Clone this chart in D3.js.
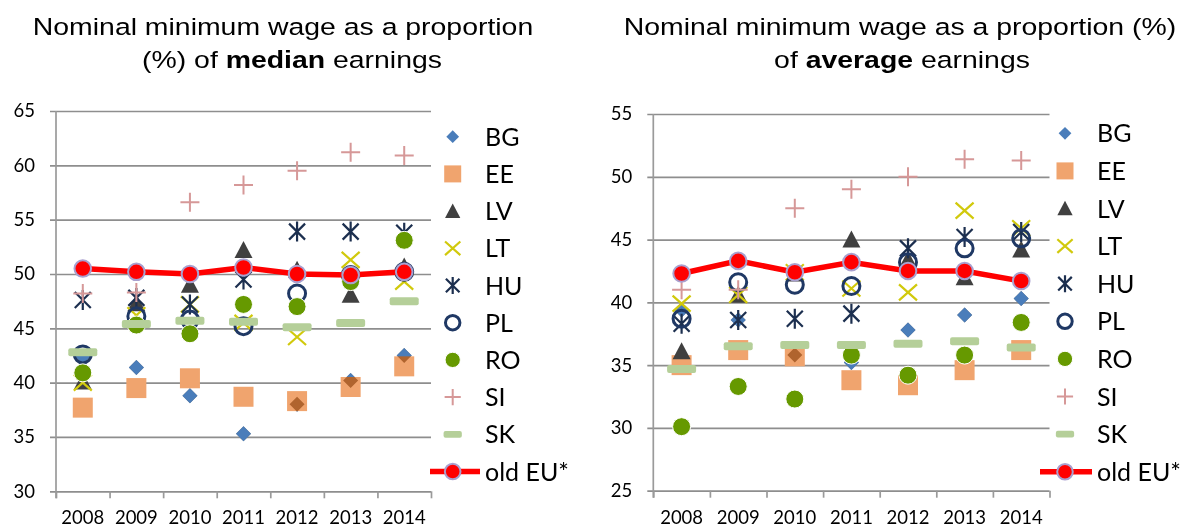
<!DOCTYPE html>
<html>
<head>
<meta charset="utf-8">
<script src="https://cdnjs.cloudflare.com/ajax/libs/d3/7.8.5/d3.min.js"></script>
<style>
  body { margin: 0; background: #fff; }
  svg { display: block; }
  .title { font-family: "Liberation Sans", Arial, sans-serif; font-size: 24.5px; fill: #000; }
  .axis text { font-family: Lato, sans-serif; font-size: 18.5px; fill: #000; }
  .legend-text { font-family: Lato, sans-serif; font-size: 25px; fill: #000; }
</style>
</head>
<body>
<svg id="chart"></svg>
<script>
const years = ["2008", "2009", "2010", "2011", "2012", "2013", "2014"];
const countries = ["BG", "EE", "LV", "LT", "HU", "PL", "RO", "SI", "SK"];
const oldLabel = "old EU*";

// minimum wage as % of median earnings
const medBG = [42.4, 41.4, 38.8, 35.3, 38.0, 40.2, 42.5];
const medEE = [37.7, 39.5, 40.4, 38.7, 38.3, 39.6, 41.5];
const medLV = [40.1, 47.3, 49.0, 52.2, 50.4, 48.1, 50.7];
const medLT = [40.0, 46.2, 47.2, 45.5, 44.2, 51.3, 49.3];
const medHU = [47.6, 47.8, 47.2, 49.5, 53.9, 53.9, 53.8];
const medPL = [42.6, 46.1, 45.8, 45.2, 48.2, 49.9, 50.2];
const medRO = [40.9, 45.3, 44.5, 47.2, 47.0, 49.3, 53.1];
const medSI = [48.2, 48.3, 56.6, 58.2, 59.5, 61.2, 60.9];
const medSK = [42.8, 45.4, 45.7, 45.6, 45.1, 45.5, 47.5];
const medOld = [50.5, 50.2, 50.0, 50.6, 50.0, 49.9, 50.2];

// minimum wage as % of average earnings
const avgBG = [39.4, 38.6, 35.8, 35.2, 37.8, 39.0, 40.3];
const avgEE = [35.0, 36.2, 35.7, 33.8, 33.4, 34.6, 36.2];
const avgLV = [36.1, 40.6, 42.3, 45.0, 43.4, 42.0, 44.2];
const avgLT = [39.9, 40.6, 42.4, 41.1, 40.8, 47.3, 45.9];
const avgHU = [38.3, 38.6, 38.7, 39.1, 44.3, 45.2, 45.6];
const avgPL = [38.7, 41.6, 41.4, 41.3, 43.2, 44.3, 45.1];
const avgRO = [30.1, 33.3, 32.3, 35.8, 34.2, 35.8, 38.4];
const avgSI = [41.0, 41.0, 47.5, 49.0, 50.0, 51.4, 51.3];
const avgSK = [34.7, 36.5, 36.6, 36.6, 36.7, 36.9, 36.4];
const avgOld = [42.3, 43.3, 42.4, 43.2, 42.5, 42.5, 41.7];

const medTicks = [30, 35, 40, 45, 50, 55, 60, 65];
const avgTicks = [25, 30, 35, 40, 45, 50, 55];

const shapes = {BG: "diamond", EE: "square", LV: "triangle", LT: "x", HU: "star",
                PL: "circle", RO: "dot", SI: "plus", SK: "dash"};
const colors = {BG: "#4a7dba", EE: "#f0a46e", LV: "#404040", LT: "#d1c90c", HU: "#1c2f4f",
                PL: "#1f3864", RO: "#669900", SI: "#d69898", SK: "#b5cf99"};

const svg = d3.select("#chart").attr("width", 1189).attr("height", 526);

drawChart({
  x0: 56, x1: 431, yTop: 111, yBot: 491.3, domain: [30, 65], ticks: medTicks,
  series: [medBG, medEE, medLV, medLT, medHU, medPL, medRO, medSI, medSK], old: medOld,
  legX: 452.7, legTextX: 485, legY0: 136.7, legDy: 37.2, legLine: [430, 480],
  title: [{x: 283, parts: [["Nominal minimum wage as a proportion", "normal"]]},
          {x: 292, parts: [["(%) of ", "normal"], ["median", "bold"], [" earnings", "normal"]]}]
});

drawChart({
  x0: 653.3, x1: 1049.5, yTop: 114, yBot: 490.7, domain: [25, 55], ticks: avgTicks,
  series: [avgBG, avgEE, avgLV, avgLT, avgHU, avgPL, avgRO, avgSI, avgSK], old: avgOld,
  legX: 1065, legTextX: 1097, legY0: 133.3, legDy: 37.6, legLine: [1040, 1092],
  title: [{x: 900, parts: [["Nominal minimum wage as a proportion (%)", "normal"]]},
          {x: 902, parts: [["of ", "normal"], ["average", "bold"], [" earnings", "normal"]]}]
});

function drawChart(cfg) {
  const g = svg.append("g");

  // titles (the original font is set wider than Arial)
  cfg.title.forEach((line, i) => {
    const t = g.append("g")
      .attr("transform", `translate(${line.x},${35 + i * 33}) scale(1.16,1)`)
      .append("text").attr("class", "title").attr("text-anchor", "middle");
    line.parts.forEach(p => t.append("tspan").attr("font-weight", p[1]).text(p[0]));
  });

  const x = d3.scaleBand().domain(years).range([cfg.x0, cfg.x1]);
  const y = d3.scaleLinear().domain(cfg.domain).range([cfg.yBot, cfg.yTop]);
  const cx = d => x(d) + x.bandwidth() / 2;

  // gridlines + y labels
  const yAxis = g.append("g").attr("class", "axis")
    .attr("transform", `translate(${cfg.x0 - 6},0)`)
    .call(d3.axisLeft(y).tickValues(cfg.ticks).tickSize(-(cfg.x1 - cfg.x0 + 6)).tickPadding(15));
  yAxis.select(".domain").remove();
  yAxis.selectAll(".tick line").attr("stroke", "#8e8e8e").attr("stroke-width", 1.7);

  // x axis tick marks at category boundaries
  const xb = d3.scaleLinear().domain([0, years.length]).range([cfg.x0, cfg.x1]);
  const xTicks = g.append("g").attr("class", "axis")
    .attr("transform", `translate(0,${cfg.yBot})`)
    .call(d3.axisBottom(xb).ticks(years.length).tickFormat("").tickSize(7));
  xTicks.select(".domain").remove();
  xTicks.selectAll(".tick line").attr("stroke", "#9a9a9a").attr("stroke-width", 1.7);

  const xLabels = g.append("g").attr("class", "axis")
    .attr("transform", `translate(0,${cfg.yBot})`)
    .call(d3.axisBottom(x).tickSize(0).tickPadding(20));
  xLabels.select(".domain").remove();

  // vertical axis line
  g.append("line")
    .attr("x1", cfg.x0).attr("x2", cfg.x0)
    .attr("y1", cfg.yTop).attr("y2", cfg.yBot + 7)
    .attr("stroke", "#9a9a9a").attr("stroke-width", 1.7);

  // country markers
  countries.forEach((c, i) => {
    g.selectAll(null)
      .data(cfg.series[i])
      .enter()
      .append("g")
        .attr("transform", (d, j) => `translate(${cx(years[j])},${y(d)})`)
        .each(function() { marker(d3.select(this), c, 1); });

    // BG shows through the EE squares as a darker shade
    if (c === "EE") {
      g.selectAll(null)
        .data(cfg.series[0])
        .enter()
        .append("g")
          .style("mix-blend-mode", "luminosity")
          .attr("transform", (d, j) => `translate(${cx(years[j])},${y(d)})`)
          .each(function() { marker(d3.select(this), "BG", 1); });
    }
  });

  // old EU line
  const line = d3.line().x((d, j) => cx(years[j])).y(d => y(d));
  g.append("path")
    .datum(cfg.old)
    .attr("d", line)
    .attr("fill", "none")
    .attr("stroke", "#ff0000")
    .attr("stroke-width", 5.5);

  g.selectAll(null)
    .data(cfg.old)
    .enter()
    .append("circle")
      .attr("cx", (d, j) => cx(years[j]))
      .attr("cy", d => y(d))
      .attr("r", 8.3)
      .attr("fill", "#ff0000")
      .attr("stroke", "#a9a0cf")
      .attr("stroke-width", 2);

  // legend
  const legend = g.append("g");
  countries.forEach((c, i) => {
    const ly = cfg.legY0 + i * cfg.legDy;
    marker(legend.append("g").attr("transform", `translate(${cfg.legX},${ly})`), c, 0.85);
    legend.append("text").attr("class", "legend-text")
      .attr("x", cfg.legTextX).attr("y", ly).attr("dy", "0.36em").text(c);
  });
  const ly = cfg.legY0 + countries.length * cfg.legDy;
  legend.append("line")
    .attr("x1", cfg.legLine[0]).attr("x2", cfg.legLine[1])
    .attr("y1", ly).attr("y2", ly)
    .attr("stroke", "#ff0000").attr("stroke-width", 5.5);
  legend.append("circle")
    .attr("cx", cfg.legX).attr("cy", ly).attr("r", 7.8)
    .attr("fill", "#ff0000").attr("stroke", "#a9a0cf").attr("stroke-width", 2);
  legend.append("text").attr("class", "legend-text")
    .attr("x", cfg.legTextX).attr("y", ly).attr("dy", "0.36em").text(oldLabel);
}

function marker(g, c, k) {
  const col = colors[c];
  switch (shapes[c]) {
    case "diamond":
      g.append("path").attr("d", `M0,${-7.5 * k}L${7.5 * k},0L0,${7.5 * k}L${-7.5 * k},0Z`).attr("fill", col);
      break;
    case "square":
      g.append("rect").attr("x", -10 * k).attr("y", -10 * k)
        .attr("width", 20 * k).attr("height", 20 * k).attr("fill", col);
      break;
    case "triangle":
      g.append("path").attr("d", `M0,${-9 * k}L${9 * k},${8 * k}L${-9 * k},${8 * k}Z`).attr("fill", col);
      break;
    case "x":
      g.append("path").attr("d", `M${-9 * k},${-8 * k}L${9 * k},${8 * k}M${-9 * k},${8 * k}L${9 * k},${-8 * k}`)
        .attr("stroke", col).attr("stroke-width", 2.2).attr("fill", "none");
      break;
    case "star":
      g.append("path").attr("d", `M${-8 * k},${-8 * k}L${8 * k},${8 * k}M${-8 * k},${8 * k}L${8 * k},${-8 * k}M0,${-10 * k}L0,${10 * k}`)
        .attr("stroke", col).attr("stroke-width", 2.2).attr("fill", "none");
      break;
    case "circle":
      g.append("circle").attr("r", 8.5 * k).attr("fill", "none")
        .attr("stroke", col).attr("stroke-width", 3);
      break;
    case "dot":
      g.append("circle").attr("r", 9 * k).attr("fill", col)
        .attr("stroke", "#fff").attr("stroke-width", 1);
      break;
    case "plus":
      g.append("path").attr("d", `M${-9.5 * k},0H${9.5 * k}M0,${-9.5 * k}V${9.5 * k}`)
        .attr("stroke", col).attr("stroke-width", 2).attr("fill", "none");
      break;
    case "dash":
      g.append("rect").attr("x", -14.5 * k / (k < 1 ? 1.35 : 1)).attr("y", -4 * k)
        .attr("width", 29 * k / (k < 1 ? 1.35 : 1)).attr("height", 8 * k).attr("rx", 2)
        .attr("fill", col);
      break;
  }
}
</script>
</body>
</html>
